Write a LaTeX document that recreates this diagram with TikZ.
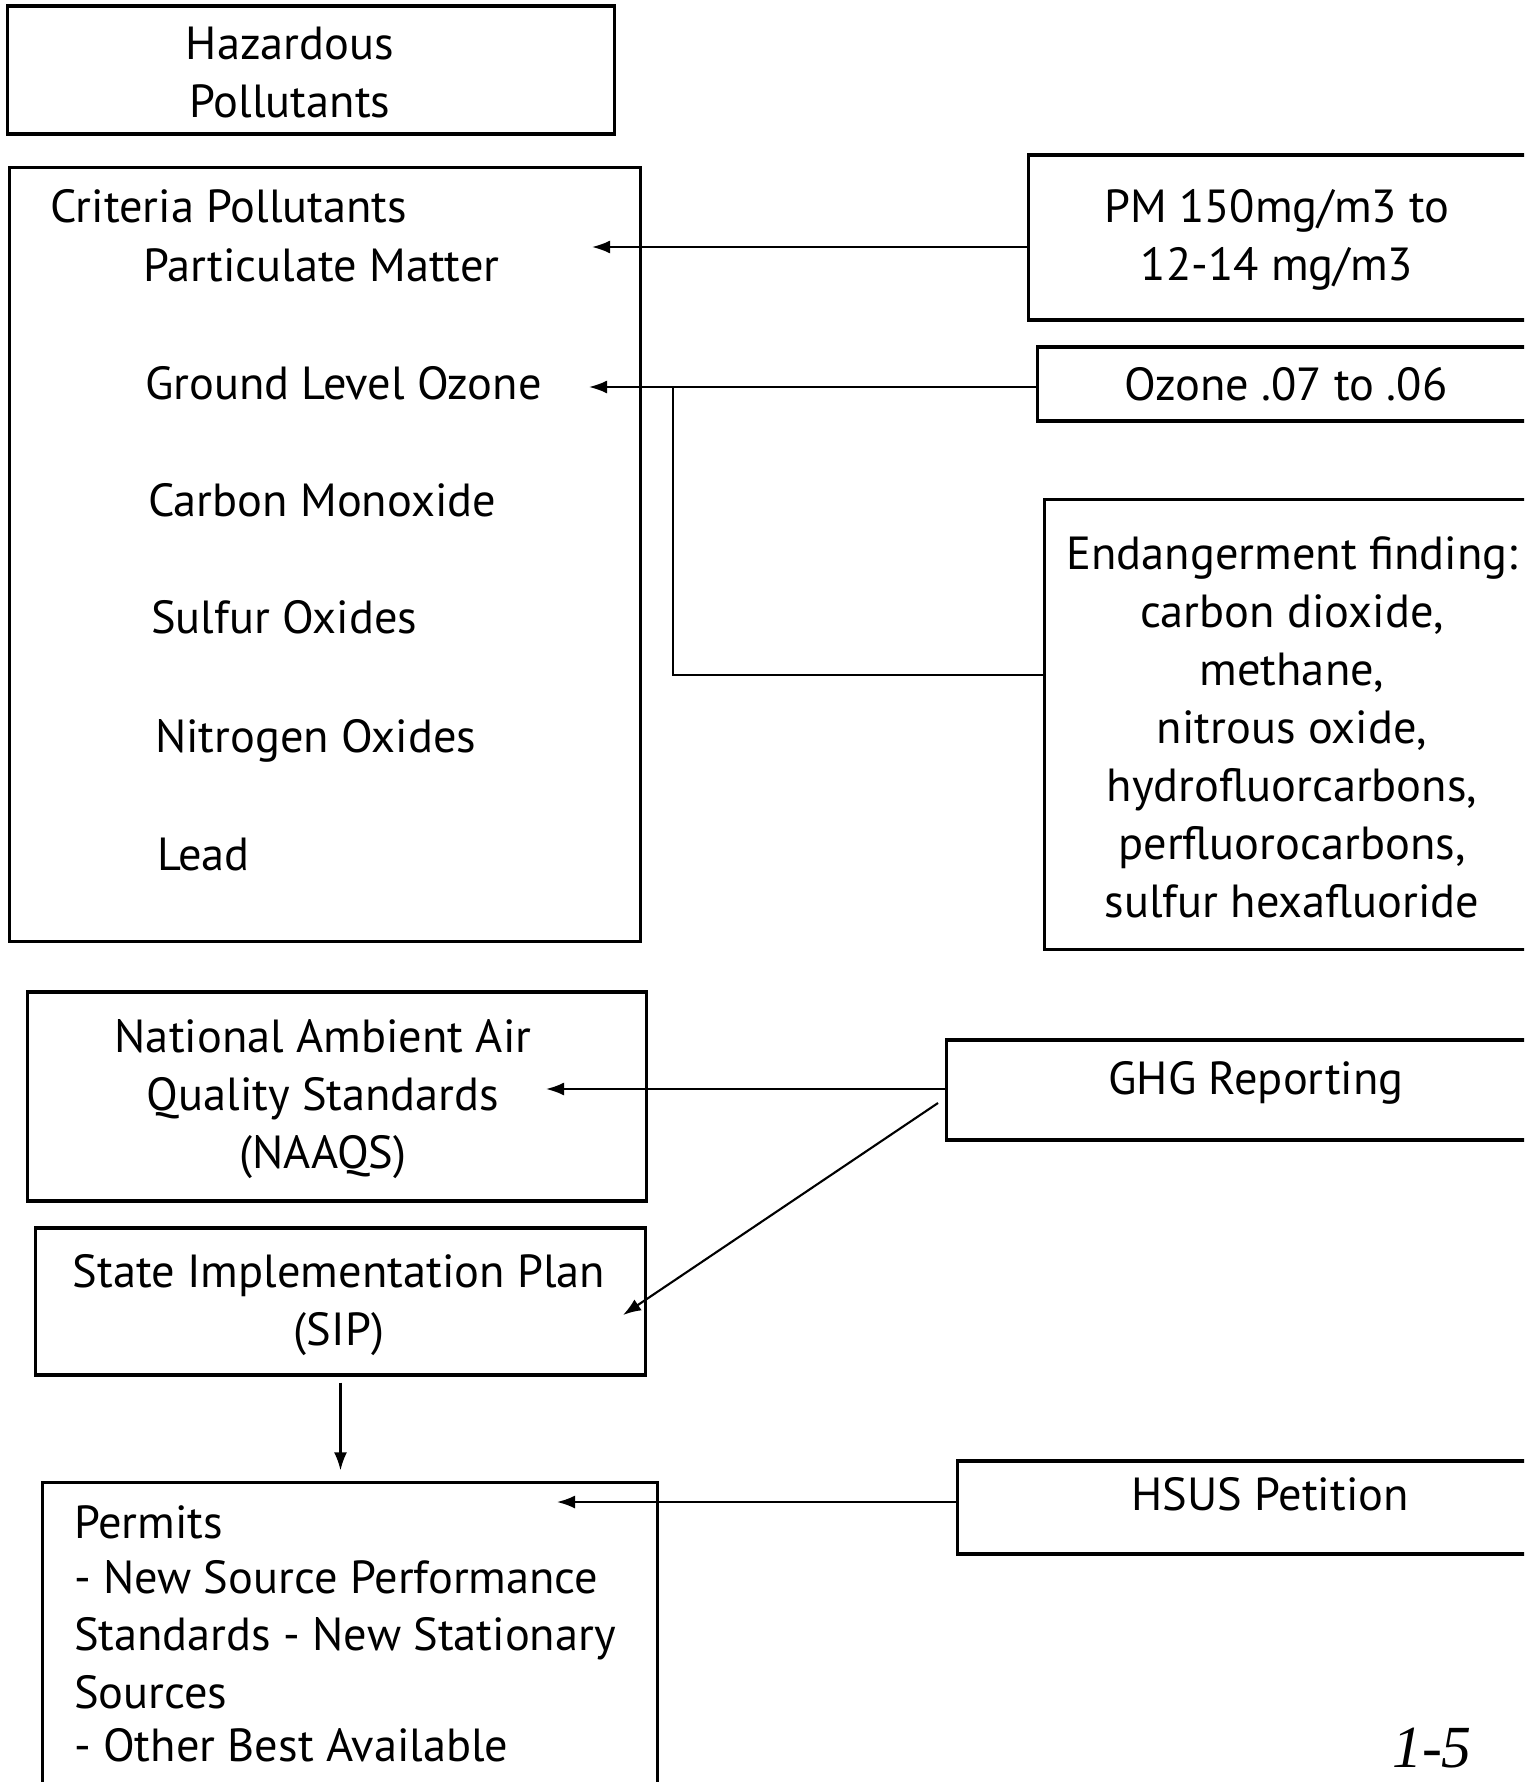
\documentclass[tikz,border=0pt]{standalone}
\usepackage{fontspec}
\setmainfont{PT Sans}
\newfontfamily\handfont{Liberation Serif}
\usetikzlibrary{arrows.meta}

\begin{document}
\begin{tikzpicture}
  [x=0.01cm,y=-0.01cm,line width=0.6pt,
   box/.style={draw,line width=0.9pt,inner sep=0pt},
   lbl/.style={inner sep=0pt,align=center,font=\fontsize{13.2}{16.5}\selectfont},
   item/.style={lbl,anchor=west,text height=9pt,text depth=3pt},
   link/.style={-{Latex[length=0.18cm,width=0.13cm]}}]
  \useasboundingbox (0,0) rectangle (1538,1782);
  \clip (0,0) rectangle (1524,1782);

  % boxes
  \node[box,minimum width=6.06cm,minimum height=1.28cm] (haz) at (311,70) {};
  \node[box,minimum width=6.30cm,minimum height=7.73cm] (crit) at (325,554.5) {};
  \node[box,minimum width=5.71cm,minimum height=1.65cm] (pm) at (1314.5,237.5) {};
  \node[box,minimum width=5.62cm,minimum height=0.74cm] (oz) at (1319,384) {};
  \node[box,minimum width=5.55cm,minimum height=4.49cm] (endg) at (1322.5,724.5) {};
  \node[box,minimum width=6.18cm,minimum height=2.09cm] (naaqs) at (337,1096.5) {};
  \node[box,minimum width=6.53cm,minimum height=1.00cm] (ghg) at (1273.5,1090) {};
  \node[box,minimum width=6.09cm,minimum height=1.47cm] (sip) at (340.5,1301.5) {};
  \node[box,minimum width=6.14cm,minimum height=3.67cm] (perm) at (350,1666.5) {};
  \node[box,minimum width=6.42cm,minimum height=0.93cm] (hsus) at (1279,1507.5) {};

  % texts
  \node[lbl] (hazt) at (290,73) {Hazardous\\Pollutants};
  \node[lbl] (pmt) at (1277,240) {PM 150mg/m3 to\\12-14 mg/m3};
  \node[lbl] (ozt) at (1286,384) {Ozone .07 to .06};
  \node[lbl] (endgt) at (1292,727) {Endangerment finding:\\carbon dioxide,\\methane,\\nitrous oxide,\\hydrofluorcarbons,\\perfluorocarbons,\\sulfur hexafluoride};
  \node[lbl] (naaqst) at (323,1099) {National Ambient Air\\Quality Standards\\(NAAQS)};
  \node[lbl] (ghgt) at (1256,1083) {GHG Reporting};
  \node[lbl] (sipt) at (339,1305) {State Implementation Plan\\(SIP)};
  \node[lbl] (hsust) at (1270,1494) {HSUS Petition};

  \node[item] (crit0) at (49,212) {Criteria Pollutants};
  \foreach \n/\x/\y/\t in {1/142/271/Particulate Matter,2/144/389/Ground Level Ozone,
      3/147/506/Carbon Monoxide,4/150/623/Sulfur Oxides,5/154/742/Nitrogen Oxides,6/156/860/Lead}
    \node[item] (crit\n) at (\x,\y) {\t};

  \foreach \n/\y/\t in {0/1528/Permits,1/1583/- New Source Performance,2/1640/Standards - New Stationary,
      3/1698/Sources,4/1751/- Other Best Available}
    \node[item] (perm\n) at (73,\y) {\t};

  \node[inner sep=0pt,font=\handfont\itshape\fontsize{17}{17}\selectfont] (page) at (1432,1748) {1-5};

  % connectors
  \coordinate (pmtip) at (592,247);
  \coordinate (oztip) at (589,387);
  \coordinate (fork) at (673,387);
  \coordinate (endgin) at (1045,675);
  \coordinate (naaqstip) at (546,1089);
  \coordinate (ghgout) at (938,1103);
  \coordinate (siptip) at (623,1315);
  \coordinate (permtip) at (557,1502);

  \draw[link] (pm.west |- pmtip) -- (pmtip);
  \draw[link] (oz.west |- oztip) -- (oztip);
  \draw (fork) |- (endgin);
  \draw[link] (ghg.west |- naaqstip) -- (naaqstip);
  \draw[link] (ghgout) -- (siptip);
  \draw[link,shorten <=0.06cm,shorten >=0.11cm] (sip.south) -- (sip.south |- perm.north);
  \draw[link] (hsus.west |- permtip) -- (permtip);

\end{tikzpicture}
\end{document}
